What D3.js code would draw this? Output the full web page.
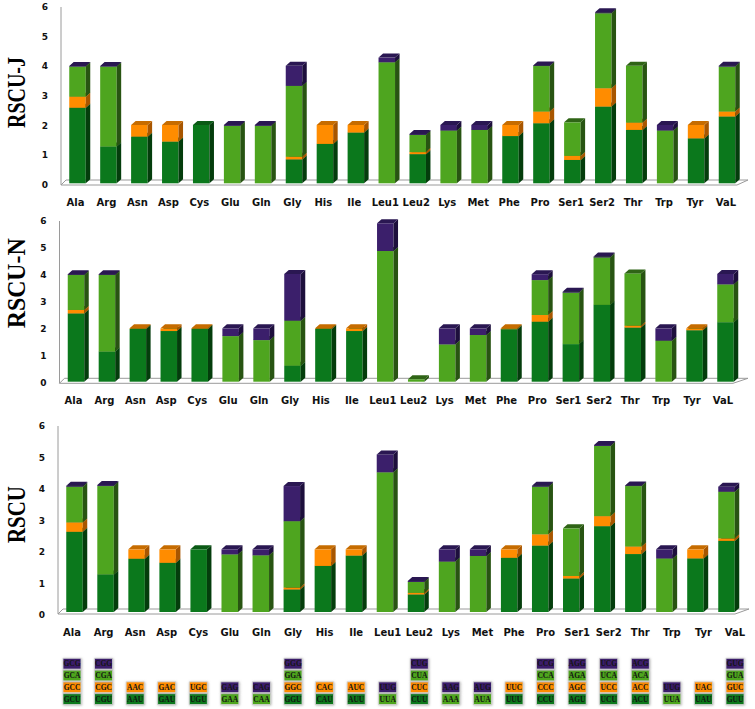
<!DOCTYPE html>
<html>
<head>
<meta charset="utf-8">
<script src="https://cdn.jsdelivr.net/npm/d3@7"></script>
<style>
  body { margin: 0; background: #fff; }
</style>
</head>
<body>
<div id="chart"></div>
<script>
const W = 755
const H = 709

const categories = ['Ala', 'Arg', 'Asn', 'Asp', 'Cys', 'Glu', 'Gln', 'Gly', 'His', 'Ile', 'Leu1',
  'Leu2', 'Lys', 'Met', 'Phe', 'Pro', 'Ser1', 'Ser2', 'Thr', 'Trp', 'Tyr', 'VaL']
const yTicks = [0, 1, 2, 3, 4, 5, 6]

// RSCU-J, split by third codon base (U, C, A, G)
const J_U = [2.59, 1.26, 1.6, 1.43, 2.0, 0, 0, 0.82, 1.35, 1.74, 0, 1.0, 0, 0, 1.62, 2.06, 0.8, 2.63, 1.83, 0, 1.54, 2.29]
const J_C = [0.38, 0, 0.4, 0.57, 0, 0, 0, 0.09, 0.65, 0.26, 0, 0.07, 0, 0, 0.38, 0.4, 0.14, 0.63, 0.25, 0, 0.46, 0.17]
const J_A = [1.03, 2.74, 0, 0, 0, 1.97, 1.97, 2.43, 0, 0, 4.15, 0.59, 1.81, 1.83, 0, 1.56, 1.15, 2.57, 1.95, 1.81, 0, 1.54]
const J_G = [0.02, 0.02, 0, 0, 0, 0.03, 0.03, 0.69, 0, 0, 0.16, 0.03, 0.19, 0.17, 0, 0.02, 0, 0.03, 0, 0.19, 0, 0.03]

// RSCU-N
const N_U = [2.56, 1.13, 1.98, 1.9, 1.98, 0, 0, 0.6, 1.98, 1.9, 0, 0, 0, 0, 1.97, 2.25, 1.41, 2.88, 2.03, 0, 1.93, 2.23]
const N_C = [0.13, 0, 0.02, 0.1, 0.02, 0, 0, 0, 0.02, 0.1, 0, 0, 0, 0, 0.03, 0.25, 0, 0, 0.07, 0, 0.07, 0]
const N_A = [1.31, 2.87, 0, 0, 0, 1.71, 1.56, 1.69, 0, 0, 4.9, 0.09, 1.4, 1.75, 0, 1.31, 1.93, 1.78, 1.96, 1.54, 0, 1.42]
const N_G = [0.03, 0.03, 0, 0, 0, 0.29, 0.44, 1.75, 0, 0, 1.04, 0, 0.6, 0.25, 0, 0.22, 0.03, 0.03, 0, 0.46, 0, 0.39]

// RSCU
const R_U = [2.56, 1.2, 1.7, 1.57, 2.0, 0, 0, 0.72, 1.47, 1.8, 0, 0.56, 0, 0, 1.73, 2.12, 1.07, 2.74, 1.85, 0, 1.71, 2.27]
const R_C = [0.3, 0, 0.3, 0.43, 0, 0, 0, 0.06, 0.53, 0.2, 0, 0.05, 0, 0, 0.27, 0.36, 0.08, 0.32, 0.24, 0, 0.29, 0.08]
const R_A = [1.14, 2.82, 0, 0, 0, 1.84, 1.81, 2.12, 0, 0, 4.46, 0.35, 1.61, 1.79, 0, 1.52, 1.52, 2.24, 1.93, 1.71, 0, 1.49]
const R_G = [0.03, 0.03, 0, 0, 0, 0.16, 0.19, 1.12, 0, 0, 0.57, 0.03, 0.39, 0.21, 0, 0.03, 0, 0.03, 0.02, 0.29, 0, 0.16]

// codons shown in the legend boxes
const codonU = ['GCU', 'CGU', 'AAU', 'GAU', 'UGU', '', '', 'GGU', 'CAU', 'AUU', '', 'CUU', '', '', 'UUU', 'CCU', 'AGU', 'UCU', 'ACU', '', 'UAU', 'GUU']
const codonC = ['GCC', 'CGC', 'AAC', 'GAC', 'UGC', '', '', 'GGC', 'CAC', 'AUC', '', 'CUC', '', '', 'UUC', 'CCC', 'AGC', 'UCC', 'ACC', '', 'UAC', 'GUC']
const codonA = ['GCA', 'CGA', '', '', '', 'GAA', 'CAA', 'GGA', '', '', 'UUA', 'CUA', 'AAA', 'AUA', '', 'CCA', 'AGA', 'UCA', 'ACA', 'UUA', '', 'GUA']
const codonG = ['GCG', 'CGG', '', '', '', 'GAG', 'CAG', 'GGG', '', '', 'UUG', 'CUG', 'AAG', 'AUG', '', 'CCG', 'AGG', 'UCG', 'ACG', 'UUG', '', 'GUG']

const COLORS = [
  { front: '#0b781c', side: '#043d0c', top: '#0a5a15' },
  { front: '#ff8c00', side: '#a85600', top: '#c66c00' },
  { front: '#4ea51f', side: '#285412', top: '#2f6416' },
  { front: '#3b1f6b', side: '#1d0f3c', top: '#2a1752' },
]

const BAR_W = 16.5
const DX = 4.5
const DY = 4

const panels = [
  { title: 'RSCU-J', titleLen: 71, titleY: 92.5, series: [J_U, J_C, J_A, J_G],
    axisX: 61, zero: 183.3, unit: 29.17, tickRange: [185, 7], floorY: 185, floorR: 737, floorBR: 748,
    barRange: [77.5, 727], labelRange: [75.5, 726], labelY: 202 },
  { title: 'RSCU-N', titleLen: 90, titleY: 283.3, series: [N_U, N_C, N_A, N_G],
    axisX: 59.5, zero: 381.7, unit: 26.67, tickRange: [383, 221], floorY: 383.3, floorR: 733, floorBR: 748,
    barRange: [76, 725.5], labelRange: [73.5, 723], labelY: 400 },
  { title: 'RSCU', titleLen: 57, titleY: 514.5, series: [R_U, R_C, R_A, R_G],
    axisX: 58, zero: 612, unit: 31.33, tickRange: [615, 426], floorY: 614, floorR: 735, floorBR: 749,
    barRange: [74.5, 726.5], labelRange: [72, 735], labelY: 632 },
]

const svg = d3.select('#chart').append('svg').attr('width', W).attr('height', H)
svg.append('rect').attr('width', W).attr('height', H).attr('fill', '#ffffff')

// soft shadow for legend boxes
svg.append('defs')
  .append('filter')
  .attr('id', 'boxShadow')
  .attr('x', '-30%').attr('y', '-30%').attr('width', '160%').attr('height', '160%')
  .append('feDropShadow')
  .attr('dx', 0.5).attr('dy', 0.5)
  .attr('stdDeviation', 0.9)
  .attr('flood-color', '#777')
  .attr('flood-opacity', 0.6)

const pts = (arr) => arr.map((p) => p.join(',')).join(' ')

const drawPanel = (p) => {
  const g = svg.append('g')
  const y = d3.scaleLinear().domain([0, 6]).range([p.zero, p.zero - 6 * p.unit])
  const yLab = d3.scaleLinear().domain([0, 6]).range(p.tickRange)
  const x = d3.scalePoint().domain(categories).range(p.barRange)
  const xLab = d3.scalePoint().domain(categories).range(p.labelRange)

  // floor
  g.append('polygon')
    .attr('points', pts([[p.axisX, p.floorY], [p.axisX + 5, p.floorY - 5], [p.floorBR, p.floorY - 5], [p.floorR, p.floorY]]))
    .attr('fill', '#ffffff')
    .attr('stroke', '#9a9a9a')
    .attr('stroke-width', 1)

  // vertical axis
  g.append('line')
    .attr('x1', p.axisX).attr('x2', p.axisX)
    .attr('y1', yLab(6)).attr('y2', p.floorY)
    .attr('stroke', '#9a9a9a')
    .attr('stroke-width', 1)

  yTicks.forEach((t) => {
    g.append('text')
      .attr('x', p.axisX - 16)
      .attr('y', yLab(t))
      .attr('dy', '0.35em')
      .attr('text-anchor', 'middle')
      .attr('font-family', 'DejaVu Sans')
      .attr('font-weight', 'bold')
      .attr('font-size', 9)
      .attr('fill', '#111')
      .text(t)
  })

  categories.forEach((c, i) => {
    const x0 = x(c) - BAR_W / 2
    let acc = 0
    p.series.forEach((s, k) => {
      const v = s[i]
      if (!v) return
      const yb = y(acc)
      acc += v
      const yt = y(acc)
      const col = COLORS[k]
      g.append('rect')
        .attr('x', x0).attr('y', yt)
        .attr('width', BAR_W).attr('height', yb - yt)
        .attr('fill', col.front)
      g.append('polygon')
        .attr('points', pts([[x0 + BAR_W, yb], [x0 + BAR_W + DX, yb - DY], [x0 + BAR_W + DX, yt - DY], [x0 + BAR_W, yt]]))
        .attr('fill', col.side)
      g.append('polygon')
        .attr('points', pts([[x0, yt], [x0 + DX, yt - DY], [x0 + BAR_W + DX, yt - DY], [x0 + BAR_W, yt]]))
        .attr('fill', col.top)
    })

    g.append('text')
      .attr('x', xLab(c))
      .attr('y', p.labelY)
      .attr('dy', '0.35em')
      .attr('text-anchor', 'middle')
      .attr('font-family', 'DejaVu Sans')
      .attr('font-weight', 'bold')
      .attr('font-size', 10)
      .attr('fill', '#111')
      .text(c)
  })

  // axis title
  g.append('text')
    .attr('transform', `translate(25, ${p.titleY}) rotate(-90)`)
    .attr('text-anchor', 'middle')
    .attr('font-family', 'Liberation Serif')
    .attr('font-weight', 'bold')
    .attr('font-size', 25)
    .attr('textLength', p.titleLen)
    .attr('lengthAdjust', 'spacingAndGlyphs')
    .attr('fill', '#000')
    .text(p.title)
}

panels.forEach(drawPanel)

// codon legend below the last panel
const legX = d3.scalePoint().domain(categories).range([72, 735])
const BOX_W = 18
const BOX_H = 11.8
const LEG_BOTTOM = 705
const legend = svg.append('g')

categories.forEach((c, i) => {
  const stack = [codonU[i], codonC[i], codonA[i], codonG[i]]
    .map((cod, k) => ({ cod, k }))
    .filter((d) => d.cod !== '')
  stack.forEach((d, j) => {
    const by = LEG_BOTTOM - (j + 1) * BOX_H
    legend.append('rect')
      .attr('x', legX(c) - BOX_W / 2)
      .attr('y', by + 0.5)
      .attr('width', BOX_W)
      .attr('height', BOX_H - 1)
      .attr('fill', COLORS[d.k].front)
      .attr('stroke', '#d4d4d4')
      .attr('stroke-width', 0.8)
      .attr('filter', 'url(#boxShadow)')
    legend.append('text')
      .attr('x', legX(c))
      .attr('y', by + BOX_H / 2)
      .attr('dy', '0.35em')
      .attr('text-anchor', 'middle')
      .attr('font-family', 'Liberation Serif')
      .attr('font-weight', 'bold')
      .attr('font-size', 7.5)
      .attr('fill', '#141414')
      .text(d.cod)
  })
})
</script>
</body>
</html>
